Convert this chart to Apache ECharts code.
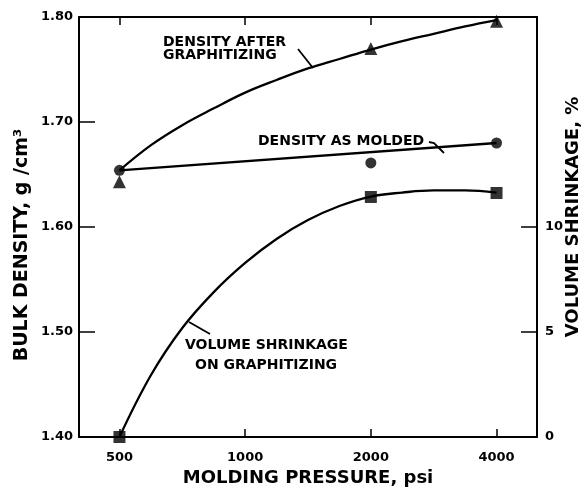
<!DOCTYPE html>
<html><head><meta charset="utf-8">
<script src="https://cdn.jsdelivr.net/npm/echarts@6/dist/echarts.min.js"></script>
<style>html,body{margin:0;padding:0;background:#fff}#c{width:582px;height:490px}</style>
</head><body><div id="c"></div>
<script>
// ---- data ----
const pressureTicks = [500, 1000, 2000, 4000];
const shrinkLabelTicks = [0, 5, 10];
const shrinkInnerTicks = [5, 10];

// measured points (markers)
const afterGraphPressure = [500, 2000, 4000];
const afterGraphDensity = [1.643, 1.770, 1.796];
const moldedPressure = [500, 2000, 4000];
const moldedDensity = [1.654, 1.661, 1.680];
const shrinkPressure = [500, 2000, 4000];
const shrinkValue = [0, 11.43, 11.62];

// drawn curves
const curvePressure = [500, 595, 707, 841, 1000, 1189, 1414, 1682, 2000, 2378, 2828, 3364, 4000];
const afterGraphCurveD = [1.654, 1.678, 1.697, 1.713, 1.728, 1.740, 1.751, 1.760, 1.769, 1.777, 1.784, 1.791, 1.797];
const shrinkCurveV = [0, 2.95, 5.19, 6.9, 8.29, 9.43, 10.33, 11.0, 11.45, 11.64, 11.74, 11.74, 11.64];
const moldedLineP = [500, 4000];
const moldedLineD = [1.654, 1.680];

// ---- build ----
const L2 = v => Math.log2(v);
const pairs = (xs, ys) => xs.map((x, i) => [L2(x), ys[i]]);
const FONT = 'DejaVu Sans';
const K = '#000';

const chart = echarts.init(document.getElementById('c'), null, {renderer: 'canvas'});
const xCommon = {
  type: 'value', min: L2(400), max: L2(5000),
  splitLine: {show: false},
  axisLine: {show: true, lineStyle: {color: K, width: 2}},
  axisTick: {show: true, inside: true, length: 8, lineStyle: {color: K, width: 1.5}, customValues: pressureTicks.map(L2)}
};
const option = {
  animation: false,
  backgroundColor: '#fff',
  grid: {left: 79, right: 45, top: 17, bottom: 53, containLabel: false, outerBoundsMode: 'none'},
  xAxis: [
    Object.assign({}, xCommon, {
      position: 'bottom',
      name: 'MOLDING PRESSURE, psi', nameLocation: 'middle', nameGap: 32, nameMoveOverlap: false,
      nameTextStyle: {fontFamily: FONT, fontWeight: 'bold', fontSize: 18, color: K},
      axisLabel: {show: true, margin: 14, color: K, fontFamily: FONT, fontWeight: 'bold', fontSize: 13,
        customValues: pressureTicks.map(L2), formatter: v => String(Math.round(Math.pow(2, v)))}
    }),
    Object.assign({}, xCommon, {position: 'top', axisLabel: {show: false}})
  ],
  yAxis: [
    {
      type: 'value', min: 1.4, max: 1.8, interval: 0.1, position: 'left',
      splitLine: {show: false},
      axisLine: {show: true, lineStyle: {color: K, width: 2}},
      axisTick: {show: true, inside: true, length: 16, lineStyle: {color: K, width: 1.5}},
      axisLabel: {margin: 6, color: K, fontFamily: FONT, fontWeight: 'bold', fontSize: 13, formatter: v => v.toFixed(2)},
      name: 'BULK DENSITY, g /cm³', nameLocation: 'middle', nameRotate: 90, nameGap: 47, nameMoveOverlap: false,
      nameTextStyle: {fontFamily: FONT, fontWeight: 'bold', fontSize: 19, color: K, padding: [0, 36, 0, 0]}
    },
    {
      type: 'value', min: 0, max: 20, interval: 5, position: 'right',
      splitLine: {show: false},
      axisLine: {show: true, lineStyle: {color: K, width: 2}},
      axisTick: {show: true, inside: true, length: 16, lineStyle: {color: K, width: 1.5}, customValues: shrinkInnerTicks},
      axisLabel: {margin: 8, color: K, fontFamily: FONT, fontWeight: 'bold', fontSize: 13, customValues: shrinkLabelTicks},
      name: 'VOLUME SHRINKAGE, %', nameLocation: 'middle', nameRotate: 90, nameGap: 27, nameMoveOverlap: false,
      nameTextStyle: {fontFamily: FONT, fontWeight: 'bold', fontSize: 18, color: K, padding: [0, 0, 0, 20]}
    }
  ],
  series: [
    {type: 'line', name: 'Density after graphitizing (curve)', xAxisIndex: 0, yAxisIndex: 0,
      data: pairs(curvePressure, afterGraphCurveD), smooth: 0.4, showSymbol: false, symbol: 'none',
      lineStyle: {color: K, width: 2.3}},
    {type: 'line', name: 'Density as molded (line)', xAxisIndex: 0, yAxisIndex: 0,
      data: pairs(moldedLineP, moldedLineD), showSymbol: false, symbol: 'none',
      lineStyle: {color: K, width: 2.3}},
    {type: 'line', name: 'Volume shrinkage (curve)', xAxisIndex: 0, yAxisIndex: 1,
      data: pairs(curvePressure, shrinkCurveV), smooth: 0.4, showSymbol: false, symbol: 'none',
      lineStyle: {color: K, width: 2.3}},
    {type: 'scatter', name: 'Density after graphitizing', xAxisIndex: 0, yAxisIndex: 0,
      data: pairs(afterGraphPressure, afterGraphDensity), symbol: 'triangle', symbolSize: 13,
      itemStyle: {color: K}},
    {type: 'scatter', name: 'Density as molded', xAxisIndex: 0, yAxisIndex: 0,
      data: pairs(moldedPressure, moldedDensity), symbol: 'circle', symbolSize: 11,
      itemStyle: {color: K}},
    {type: 'scatter', name: 'Volume shrinkage', xAxisIndex: 0, yAxisIndex: 1,
      data: pairs(shrinkPressure, shrinkValue), symbol: 'rect', symbolSize: 12,
      itemStyle: {color: K}}
  ],
  graphic: [
    {type: 'text', x: 163, y: 42, style: {text: 'DENSITY AFTER', fill: K, font: 'bold 14px "DejaVu Sans"', verticalAlign: 'middle'}},
    {type: 'text', x: 163, y: 55, style: {text: 'GRAPHITIZING', fill: K, font: 'bold 14px "DejaVu Sans"', verticalAlign: 'middle'}},
    {type: 'line', shape: {x1: 298, y1: 49, x2: 313, y2: 68}, style: {stroke: K, lineWidth: 1.8}},
    {type: 'text', x: 258, y: 141, style: {text: 'DENSITY AS MOLDED', fill: K, font: 'bold 14px "DejaVu Sans"', verticalAlign: 'middle'}},
    {type: 'polyline', shape: {points: [[429, 142], [434, 143], [444, 153]]}, style: {stroke: K, lineWidth: 1.8, fill: null}},
    {type: 'text', x: 185, y: 345, style: {text: 'VOLUME SHRINKAGE', fill: K, font: 'bold 14px "DejaVu Sans"', verticalAlign: 'middle'}},
    {type: 'text', x: 195, y: 365, style: {text: 'ON GRAPHITIZING', fill: K, font: 'bold 14px "DejaVu Sans"', verticalAlign: 'middle'}},
    {type: 'line', shape: {x1: 189, y1: 322, x2: 210, y2: 334}, style: {stroke: K, lineWidth: 1.8}}
  ]
};
chart.setOption(option);
</script>
</body></html>
